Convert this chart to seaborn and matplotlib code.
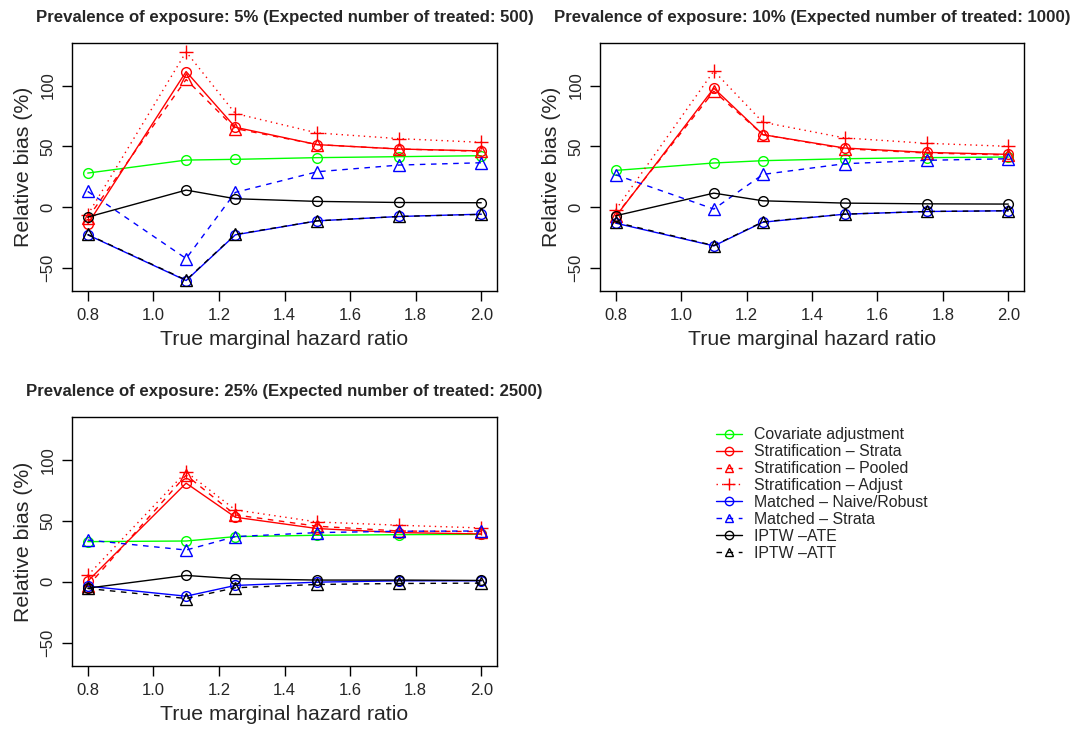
#!/usr/bin/env python3
# -*- coding: utf-8 -*-
"""Relative bias of estimators vs. true marginal hazard ratio, three prevalence panels."""

import numpy as np
import pandas as pd
import matplotlib
matplotlib.use('Agg')
import matplotlib.pyplot as plt
import seaborn as sns

# true marginal hazard ratio
hazard_ratio = [0.8, 1.1, 1.25, 1.5, 1.75, 2.0]

methods = [
    'Covariate adjustment',
    'Stratification \u2013 Strata',
    'Stratification \u2013 Pooled',
    'Stratification \u2013 Adjust',
    'Matched \u2013 Naive/Robust',
    'Matched \u2013 Strata',
    'IPTW \u2013ATE',
    'IPTW \u2013ATT',
]

panel_titles = [
    'Prevalence of exposure: 5% (Expected number of treated: 500)',
    'Prevalence of exposure: 10% (Expected number of treated: 1000)',
    'Prevalence of exposure: 25% (Expected number of treated: 2500)',
]

# relative bias (%), one list per method
bias_5 = {
    'Covariate adjustment':       [28.0, 38.7, 39.3, 40.7, 41.5, 42.3],
    'Stratification \u2013 Strata': [-14.0, 111.5, 65.7, 51.4, 47.8, 46.2],
    'Stratification \u2013 Pooled': [-9.0, 105.0, 64.6, 51.4, 47.8, 45.9],
    'Stratification \u2013 Adjust': [-6.3, 127.7, 77.0, 61.0, 56.3, 53.3],
    'Matched \u2013 Naive/Robust':  [-22.8, -60.4, -22.8, -11.3, -7.7, -5.8],
    'Matched \u2013 Strata':        [12.9, -42.3, 12.1, 29.1, 34.6, 36.5],
    'IPTW \u2013ATE':               [-8.2, 14.0, 6.9, 4.7, 3.8, 3.6],
    'IPTW \u2013ATT':               [-22.5, -60.0, -22.5, -11.3, -7.7, -6.0],
}
bias_10 = {
    'Covariate adjustment':       [30.2, 36.3, 38.2, 39.8, 40.7, 41.2],
    'Stratification \u2013 Strata': [-7.7, 97.8, 59.6, 48.6, 45.0, 43.4],
    'Stratification \u2013 Pooled': [-7.0, 95.3, 59.6, 48.0, 44.5, 42.9],
    'Stratification \u2013 Adjust': [-2.2, 112.0, 69.8, 56.9, 52.5, 50.0],
    'Matched \u2013 Naive/Robust':  [-13.2, -31.9, -12.4, -5.8, -3.6, -3.0],
    'Matched \u2013 Strata':        [26.6, -1.6, 26.9, 35.7, 38.5, 39.8],
    'IPTW \u2013ATE':               [-7.1, 11.5, 5.2, 3.3, 2.7, 2.5],
    'IPTW \u2013ATT':               [-12.5, -31.6, -12.1, -5.8, -3.6, -3.0],
}
bias_25 = {
    'Covariate adjustment':       [32.9, 33.4, 37.0, 38.1, 38.6, 38.9],
    'Stratification \u2013 Strata': [0.5, 80.8, 52.9, 43.6, 40.3, 39.2],
    'Stratification \u2013 Pooled': [-3.6, 87.4, 54.8, 45.5, 41.6, 41.1],
    'Stratification \u2013 Adjust': [5.2, 90.1, 58.9, 49.0, 46.3, 44.1],
    'Matched \u2013 Naive/Robust':  [-3.6, -11.8, -3.0, -0.3, 0.8, 0.8],
    'Matched \u2013 Strata':        [34.2, 26.0, 37.0, 40.3, 41.4, 41.6],
    'IPTW \u2013ATE':               [-5.2, 5.2, 2.5, 1.4, 1.4, 1.1],
    'IPTW \u2013ATT':               [-5.5, -13.7, -4.9, -2.2, -1.4, -1.1],
}

# R-like styles: colour, line type, marker
styles = {
    'Covariate adjustment':       ('#00FF00', '-', 'o'),
    'Stratification \u2013 Strata': ('#FF0000', '-', 'o'),
    'Stratification \u2013 Pooled': ('#FF0000', (0, (4, 4)), '^'),
    'Stratification \u2013 Adjust': ('#FF0000', (0, (1, 3)), '+'),
    'Matched \u2013 Naive/Robust':  ('#0000FF', '-', 'o'),
    'Matched \u2013 Strata':        ('#0000FF', (0, (4, 4)), '^'),
    'IPTW \u2013ATE':               ('#000000', '-', 'o'),
    'IPTW \u2013ATT':               ('#000000', (0, (4, 4)), '^'),
}
marker_size = {'o': 7, '^': 8, '+': 10}

sns.set_theme(style='white')
plt.rcParams['font.family'] = ['Liberation Sans', 'DejaVu Sans']
plt.rcParams['axes.unicode_minus'] = True

W, H = 1080, 730
fig = plt.figure(figsize=(W / 100, H / 100), dpi=100)


def px_axes(left, top, right, bottom):
    return fig.add_axes([left / W, 1 - bottom / H, (right - left) / W, (bottom - top) / H])


boxes = [(72, 43, 497, 291), (600, 43, 1024, 291), (72, 417, 497, 666)]
panels = [bias_5, bias_10, bias_25]

for box, title, bias in zip(boxes, panel_titles, panels):
    ax = px_axes(*box)
    rows = []
    for m in methods:
        for x, y in zip(hazard_ratio, bias[m]):
            rows.append({'hr': x, 'bias': y, 'method': m})
    df = pd.DataFrame(rows)

    for m in methods:
        col, ls, mk = styles[m]
        sub = df[df['method'] == m]
        sns.lineplot(data=sub, x='hr', y='bias', ax=ax, color=col, linestyle=ls,
                     marker=mk, markersize=marker_size[mk],
                     markerfacecolor='none', markeredgecolor=col, markeredgewidth=1.0,
                     linewidth=1.0, label=m, legend=False, estimator=None)

    ax.set_xlim(0.752, 2.048)
    ax.set_ylim(-69, 135)
    ax.set_xticks([0.8, 1.0, 1.2, 1.4, 1.6, 1.8, 2.0])
    ax.set_xticklabels(['0.8', '1.0', '1.2', '1.4', '1.6', '1.8', '2.0'])
    ax.set_yticks([-50, 0, 50, 100])
    ax.set_yticklabels(['\u221250', '0', '50', '100'], rotation=90, va='center')
    ax.tick_params(axis='both', direction='out', length=7, width=1, color='black',
                   labelsize=12, pad=5, left=True, bottom=True)
    for sp in ax.spines.values():
        sp.set_color('black')
        sp.set_linewidth(1)
    ax.set_xlabel('True marginal hazard ratio', fontsize=15.3, labelpad=5)
    ax.set_ylabel('Relative bias (%)', fontsize=15.3, labelpad=5)
    ax.set_title(title, fontsize=12.1, fontweight='bold', pad=15)

# legend in the empty bottom-right slot
handles = []
for m in methods:
    col, ls, mk = styles[m]
    h, = plt.plot([], [], color=col, linestyle=ls, marker=mk,
                  markersize=6 if mk != '+' else 9, markerfacecolor='none',
                  markeredgecolor=col, linewidth=1.0)
    handles.append(h)
fig.legend(handles, methods, loc='upper left', bbox_to_anchor=(710 / W, 1 - 421 / H),
           frameon=False, fontsize=11.4, handlelength=1.6, handletextpad=0.8,
           labelspacing=0.12, borderaxespad=0)

fig.savefig('out.png', dpi=100)
